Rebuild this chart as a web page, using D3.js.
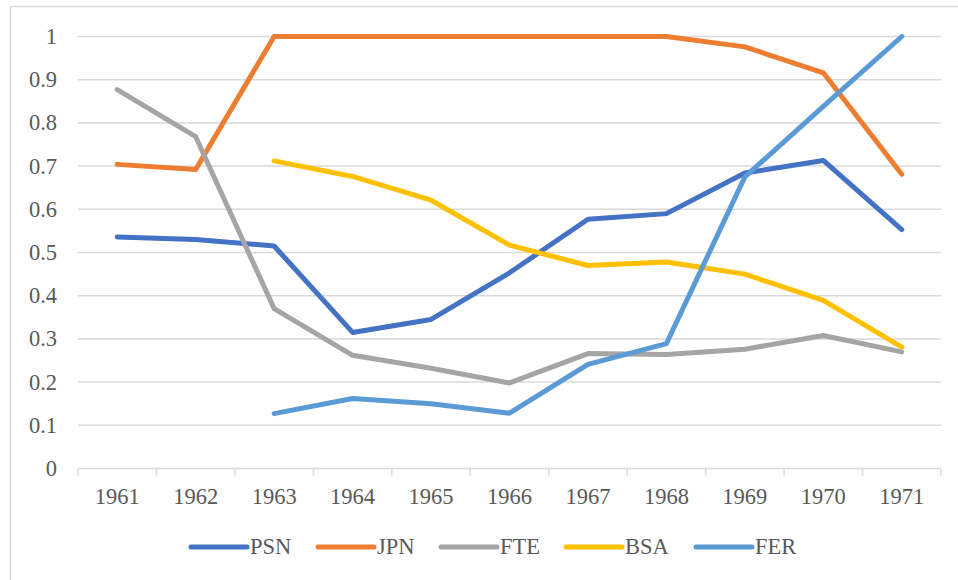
<!DOCTYPE html>
<html><head><meta charset="utf-8">
<script src="https://cdn.jsdelivr.net/npm/d3@7"></script>
<style>html,body{margin:0;padding:0;background:#fff;}svg{display:block;}</style>
</head><body><svg id="c" width="958" height="580"></svg>
<script>
const years = ["1961","1962","1963","1964","1965","1966","1967","1968","1969","1970","1971"];
const yTicks = [0,0.1,0.2,0.3,0.4,0.5,0.6,0.7,0.8,0.9,1];
const seriesNames = ["PSN","JPN","FTE","BSA","FER"];
const seriesColors = ["#4472C4","#ED7D31","#A5A5A5","#FFC000","#5B9BD5"];
const PSN = [0.536,0.530,0.515,0.315,0.345,0.453,0.577,0.590,0.684,0.713,0.553];
const JPN = [0.704,0.692,1,1,1,1,1,1,0.976,0.916,0.681];
const FTE = [0.877,0.768,0.370,0.262,0.232,0.198,0.266,0.264,0.276,0.308,0.270];
const BSA = [null,null,0.712,0.676,0.621,0.517,0.470,0.478,0.450,0.389,0.281];
const FER = [null,null,0.127,0.162,0.150,0.128,0.241,0.289,0.675,0.838,1];
const seriesValues = [PSN,JPN,FTE,BSA,FER];

const svg = d3.select("#c");
const textColor = "#595959", gridColor = "#d9d9d9";
const FONT = '"Liberation Serif"';
const FS = "22.5px";

// outer border
svg.append("rect").attr("x",10.5).attr("y",6.5).attr("width",960).attr("height",600)
  .attr("fill","none").attr("stroke",gridColor).attr("stroke-width",1.5);

const x = d3.scaleBand().domain(years).range([78,941]).padding(0);
const y = d3.scaleLinear().domain([0,1]).range([468.5,36.5]);

// gridlines
svg.append("g").selectAll("line").data(yTicks.filter(d=>d>0)).join("line")
  .attr("x1",78).attr("x2",941).attr("y1",d=>y(d)).attr("y2",d=>y(d))
  .attr("stroke",gridColor).attr("stroke-width",1.5);

// y labels
svg.append("g").selectAll("text").data(yTicks).join("text")
  .attr("x",57).attr("y",d=>y(d)).attr("dy","0.33em").attr("text-anchor","end")
  .attr("fill",textColor).style("font-family",FONT).style("font-size",FS)
  .text(d=>d3.format("")(+d.toFixed(1)));

// x axis
const xAxis = d3.axisBottom(x).tickSize(0).tickFormat(d=>d);
const gx = svg.append("g").attr("transform",`translate(0,${y(0)})`).call(xAxis);
gx.select(".domain").attr("stroke",gridColor).attr("stroke-width",1.5).attr("d","M78,0H941");
gx.selectAll(".tick text").attr("fill",textColor).style("font-family",FONT).style("font-size",FS)
  .attr("y",28).attr("dy","0.33em");
// boundary tick marks
const bounds = years.map(d=>x(d)).concat([x(years[years.length-1])+x.bandwidth()]);
gx.append("g").selectAll("line").data(bounds).join("line")
  .attr("x1",d=>d).attr("x2",d=>d).attr("y1",0).attr("y2",7)
  .attr("stroke",gridColor).attr("stroke-width",1.5);

// lines
const line = d3.line().defined(d=>d.v!=null)
  .x(d=>x(d.year)+x.bandwidth()/2).y(d=>y(d.v));
seriesNames.forEach((name,i)=>{
  const data = years.map((yr,j)=>({year:yr,v:seriesValues[i][j]}));
  svg.append("path").datum(data).attr("d",line)
    .attr("fill","none").attr("stroke",seriesColors[i]).attr("stroke-width",5)
    .attr("stroke-linejoin","round").attr("stroke-linecap","round");
});

// legend
const legendX = [191,318,441,566,696];
const lg = svg.append("g");
seriesNames.forEach((name,i)=>{
  lg.append("line").attr("x1",legendX[i]).attr("x2",legendX[i]+56).attr("y1",547).attr("y2",547)
    .attr("stroke",seriesColors[i]).attr("stroke-width",5).attr("stroke-linecap","round");
  lg.append("text").attr("x",legendX[i]+59).attr("y",547).attr("dy","0.33em")
    .attr("fill",textColor).style("font-family",FONT).style("font-size",FS).text(name);
});
</script></body></html>
